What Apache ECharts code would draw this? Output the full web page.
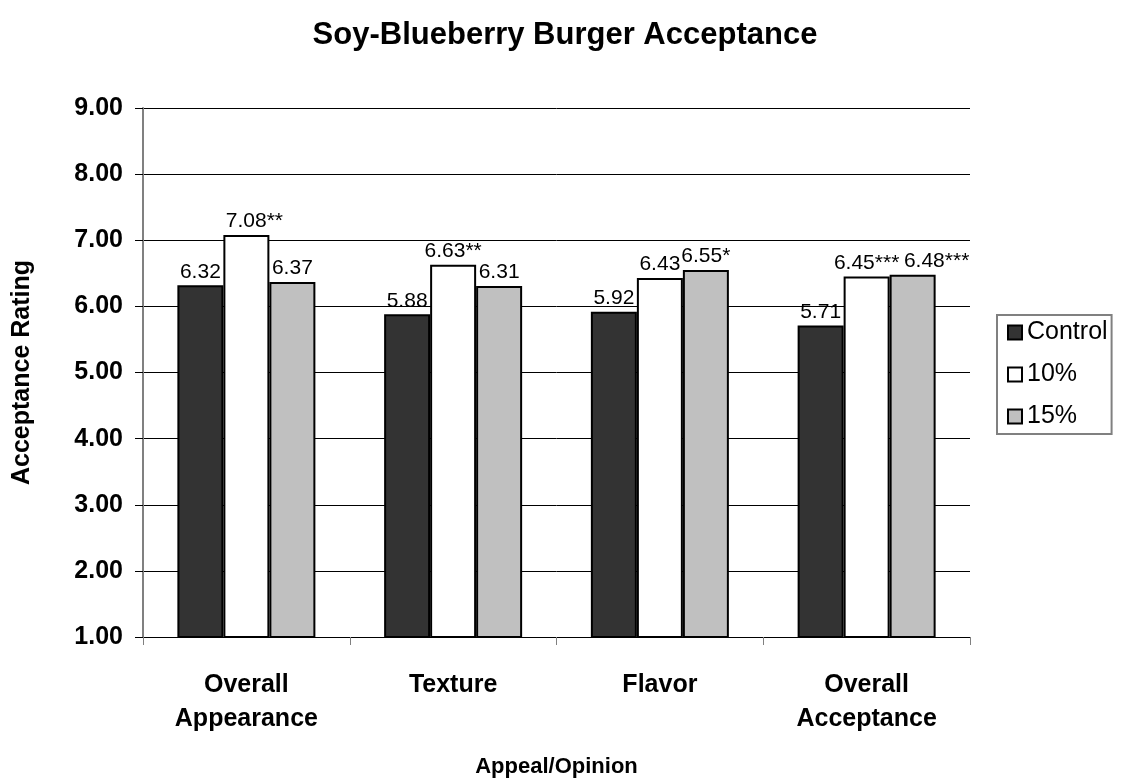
<!DOCTYPE html>
<html>
<head>
<meta charset="utf-8">
<script src="https://cdn.jsdelivr.net/npm/echarts@6/dist/echarts.min.js"></script>
<style>html,body{margin:0;padding:0;background:#fff;}#c{width:1130px;height:784px;}</style>
</head>
<body>
<div id="c"></div>
<script>
var categories = ['Overall\nAppearance', 'Texture', 'Flavor', 'Overall\nAcceptance'];
var seriesNames = ['Control', '10%', '15%'];
var controlValues = [6.32, 5.88, 5.92, 5.71];
var tenValues = [7.08, 6.63, 6.43, 6.45];
var fifteenValues = [6.37, 6.31, 6.55, 6.48];
var controlStars = ['', '', '', ''];
var tenStars = ['**', '**', '', '***'];
var fifteenStars = ['', '', '*', '***'];

var FONT = '"Liberation Sans", Arial, sans-serif';
var colors = ['#333333', '#ffffff', '#c0c0c0'];
var valuesList = [controlValues, tenValues, fifteenValues];
var starsList = [controlStars, tenStars, fifteenStars];
// label nudges (series index, data index, dx) to avoid overlapping labels
var labelNudges = [[2, 3, 24], [1, 0, 8]];

function makeSeries(i) {
  var stars = starsList[i];
  var data = valuesList[i].map(function (v, j) {
    var item = { value: v };
    labelNudges.forEach(function (n) {
      if (n[0] === i && n[1] === j) item.label = { offset: [n[2], 0] };
    });
    return item;
  });
  return {
    name: seriesNames[i],
    type: 'bar',
    data: data,
    barWidth: 46,
    barGap: '0%',
    itemStyle: { color: colors[i], borderColor: '#000', borderWidth: 2 },
    label: {
      show: true,
      position: 'top',
      distance: 3,
      fontFamily: FONT, fontSize: 21, color: '#000',
      formatter: function (p) {
        return p.value.toFixed(2) + stars[p.dataIndex];
      }
    }
  };
}

var boldText = { fontFamily: FONT, fontSize: 25, fontWeight: 'bold', color: '#000' };

var chart = echarts.init(document.getElementById('c'));
chart.setOption({
  animation: false,
  backgroundColor: '#fff',
  title: {
    text: 'Soy-Blueberry Burger Acceptance',
    left: 'center',
    top: 15,
    textStyle: { fontFamily: FONT, fontSize: 31, fontWeight: 'bold', color: '#000' }
  },
  legend: {
    orient: 'vertical',
    left: 997,
    top: 315,
    padding: [5, 4, 5, 10],
    itemWidth: 14,
    itemHeight: 14,
    itemGap: 17,
    icon: 'rect',
    borderColor: '#808080',
    borderWidth: 2,
    backgroundColor: '#fff',
    textStyle: { fontFamily: FONT, fontSize: 25, color: '#000' },
    data: seriesNames
  },
  grid: { left: 143, right: 160, top: 108, bottom: 147, containLabel: false },
  xAxis: {
    type: 'category',
    data: categories,
    name: 'Appeal/Opinion',
    nameLocation: 'middle',
    nameGap: 119,
    nameTextStyle: { fontFamily: FONT, fontSize: 22, fontWeight: 'bold', color: '#000' },
    axisLine: { lineStyle: { color: '#000', width: 1 } },
    axisTick: { show: true, length: 8, lineStyle: { color: '#808080' } },
    axisLabel: {
      margin: 31,
      fontFamily: FONT, fontSize: 25, fontWeight: 'bold', color: '#000',
      lineHeight: 34
    }
  },
  yAxis: {
    type: 'value',
    min: 1,
    max: 9,
    interval: 1,
    name: 'Acceptance Rating',
    nameLocation: 'middle',
    nameGap: 108,
    nameTextStyle: boldText,
    axisLine: { show: true, lineStyle: { color: '#808080', width: 2 } },
    axisTick: { show: true, length: 8, inside: false, lineStyle: { color: '#000' } },
    splitLine: { show: true, lineStyle: { color: '#000', width: 1 } },
    axisLabel: {
      margin: 20,
      fontFamily: FONT, fontSize: 25, fontWeight: 'bold', color: '#000',
      formatter: function (v) { return v.toFixed(2); }
    }
  },
  series: [makeSeries(0), makeSeries(1), makeSeries(2)]
});
</script>
</body>
</html>
